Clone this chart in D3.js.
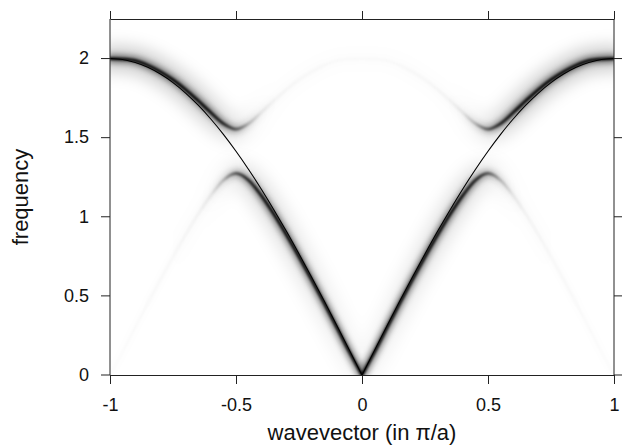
<!DOCTYPE html>
<html>
<head>
<meta charset="utf-8">
<script src="https://cdn.jsdelivr.net/npm/d3@7"></script>
<style>
  body { margin: 0; background: #fff; }
  svg  { display: block; font-family: "Liberation Sans", Arial, sans-serif; }
</style>
</head>
<body>
<svg id="chart" width="624" height="445"></svg>
<script>
// wavevector samples (in pi/a)
const kValues = [-1, -0.95, -0.9, -0.85, -0.8, -0.75, -0.7, -0.65, -0.6, -0.55, -0.5,
                 -0.45, -0.4, -0.35, -0.3, -0.25, -0.2, -0.15, -0.1, -0.05, 0,
                 0.05, 0.1, 0.15, 0.2, 0.25, 0.3, 0.35, 0.4, 0.45, 0.5,
                 0.55, 0.6, 0.65, 0.7, 0.75, 0.8, 0.85, 0.9, 0.95, 1];

// thin black line: unperturbed dispersion
const freeFreq = [2, 1.994, 1.975, 1.945, 1.902, 1.848, 1.782, 1.705, 1.618, 1.521, 1.414,
                  1.299, 1.176, 1.045, 0.908, 0.765, 0.618, 0.467, 0.313, 0.157, 0,
                  0.157, 0.313, 0.467, 0.618, 0.765, 0.908, 1.045, 1.176, 1.299, 1.414,
                  1.521, 1.618, 1.705, 1.782, 1.848, 1.902, 1.945, 1.975, 1.994, 2];

// lower branch of the spectral function
const lowerFreq = [0, 0.146, 0.301, 0.454, 0.603, 0.747, 0.886, 1.017, 1.135, 1.231, 1.274,
                   1.231, 1.135, 1.017, 0.886, 0.747, 0.603, 0.454, 0.301, 0.146, 0,
                   0.146, 0.301, 0.454, 0.603, 0.747, 0.886, 1.017, 1.135, 1.231, 1.274,
                   1.231, 1.135, 1.017, 0.886, 0.747, 0.603, 0.454, 0.301, 0.146, 0];
const lowerWeight = [0.01, 0.012, 0.015, 0.018, 0.02, 0.022, 0.026, 0.035, 0.07, 0.22, 0.58,
                     0.85, 0.95, 1, 1, 1, 1, 1, 1, 1, 1,
                     1, 1, 1, 1, 1, 1, 1, 0.95, 0.85, 0.58,
                     0.22, 0.07, 0.035, 0.026, 0.022, 0.02, 0.018, 0.015, 0.012, 0.01];

// upper branch of the spectral function
const upperFreq = [2, 1.997, 1.987, 1.958, 1.917, 1.866, 1.804, 1.733, 1.659, 1.589, 1.554,
                   1.589, 1.659, 1.733, 1.804, 1.866, 1.917, 1.958, 1.987, 1.997, 2,
                   1.997, 1.987, 1.958, 1.917, 1.866, 1.804, 1.733, 1.659, 1.589, 1.554,
                   1.589, 1.659, 1.733, 1.804, 1.866, 1.917, 1.958, 1.987, 1.997, 2];
const upperWeight = [1, 1, 1, 1, 1, 1, 1, 1, 0.95, 0.85, 0.58,
                     0.22, 0.07, 0.035, 0.026, 0.022, 0.02, 0.018, 0.016, 0.015, 0.015,
                     0.015, 0.016, 0.018, 0.02, 0.022, 0.026, 0.035, 0.07, 0.22, 0.58,
                     0.85, 0.95, 1, 1, 1, 1, 1, 1, 1, 1];

const xTicks = [-1, -0.5, 0, 0.5, 1];
const yTicks = [0, 0.5, 1, 1.5, 2];
const xTickLabels = ["-1", "-0.5", "0", "0.5", "1"];
const yTickLabels = ["0", "0.5", "1", "1.5", "2"];

const svg = d3.select("#chart");
const x = d3.scaleLinear().domain([-1, 1]).range([110, 614]);
const y = d3.scaleLinear().domain([0, 2.25]).range([375, 19]);

const defs = svg.append("defs");
defs.append("clipPath").attr("id", "plot-clip")
  .append("rect")
  .attr("x", 110).attr("y", 19.5).attr("width", 504).attr("height", 356);

// blurred layers that make the broadened bands
const layers = [
  { width: 26, blur: 8,   alpha: (w, f) => w * (0.03 + 0.08 * f) },
  { width: 7,  blur: 3,   alpha: (w, f) => w * 0.55 },
  { width: 2.8, blur: 1.0, alpha: (w, f) => w * 0.95 }
];

layers.forEach((L, li) => {
  defs.append("filter").attr("id", "blur" + li)
    .attr("filterUnits", "userSpaceOnUse")
    .attr("x", 0).attr("y", 0).attr("width", 624).attr("height", 445)
    .append("feGaussianBlur").attr("stdDeviation", L.blur);
});

function gradient(id, weights, freqs, alpha) {
  const g = defs.append("linearGradient").attr("id", id)
    .attr("gradientUnits", "userSpaceOnUse")
    .attr("x1", x(-1)).attr("x2", x(1)).attr("y1", 0).attr("y2", 0);
  kValues.forEach((k, i) => {
    g.append("stop")
      .attr("offset", (x(k) - x(-1)) / (x(1) - x(-1)))
      .attr("stop-color", "#000")
      .attr("stop-opacity", Math.min(1, alpha(weights[i], freqs[i])));
  });
}

const line = d3.line().x(d => x(d.k)).y(d => y(d.f)).curve(d3.curveMonotoneX);

function bandPath(freqs, split) {
  const pts = kValues.map((k, i) => ({ k, f: freqs[i] }));
  if (!split) return line(pts);
  return line(pts.filter(p => p.k <= 0)) + line(pts.filter(p => p.k >= 0));
}

const plot = svg.append("g").attr("clip-path", "url(#plot-clip)");

const bands = [
  { name: "lower", freqs: lowerFreq, weights: lowerWeight, split: true },
  { name: "upper", freqs: upperFreq, weights: upperWeight, split: false }
];

layers.forEach((L, li) => {
  bands.forEach(b => {
    const gid = `g-${b.name}-${li}`;
    gradient(gid, b.weights, b.freqs, L.alpha);
    plot.append("path")
      .attr("d", bandPath(b.freqs, b.split))
      .attr("fill", "none")
      .attr("stroke", `url(#${gid})`)
      .attr("stroke-width", L.width)
      .attr("stroke-linecap", "round")
      .attr("stroke-linejoin", "round")
      .attr("filter", `url(#blur${li})`);
  });
});

// unperturbed dispersion
plot.append("path")
  .attr("d", bandPath(freeFreq, true))
  .attr("fill", "none")
  .attr("stroke", "#000")
  .attr("stroke-width", 1.1);

// axes
function styleAxis(g) {
  g.selectAll("path, line").attr("stroke", "#222");
  g.selectAll("text").attr("fill", "#111").style("font-size", "18px");
}

svg.append("g").attr("transform", "translate(0,375)")
  .call(d3.axisBottom(x).tickValues(xTicks).tickSize(9).tickSizeOuter(0).tickPadding(14)
        .tickFormat((d, i) => xTickLabels[i]))
  .call(styleAxis);

svg.append("g").attr("transform", "translate(0,19)")
  .call(d3.axisTop(x).tickValues(xTicks).tickSize(8).tickSizeOuter(0).tickFormat(""))
  .call(styleAxis);

svg.append("g").attr("transform", "translate(110,0)")
  .call(d3.axisLeft(y).tickValues(yTicks).tickSize(9).tickSizeOuter(0).tickPadding(12).offset(0)
        .tickFormat((d, i) => yTickLabels[i]))
  .call(styleAxis);

svg.append("g").attr("transform", "translate(614,0)")
  .call(d3.axisRight(y).tickValues(yTicks).tickSize(8).tickSizeOuter(0).offset(0).tickFormat(""))
  .call(styleAxis);

// titles
svg.append("text")
  .attr("x", 362).attr("y", 440)
  .attr("text-anchor", "middle")
  .style("font-size", "22px").attr("fill", "#111")
  .text("wavevector (in \u03c0/a)");

svg.append("text")
  .attr("transform", "translate(28,197) rotate(-90)")
  .attr("text-anchor", "middle")
  .style("font-size", "22px").attr("fill", "#111")
  .text("frequency");
</script>
</body>
</html>
